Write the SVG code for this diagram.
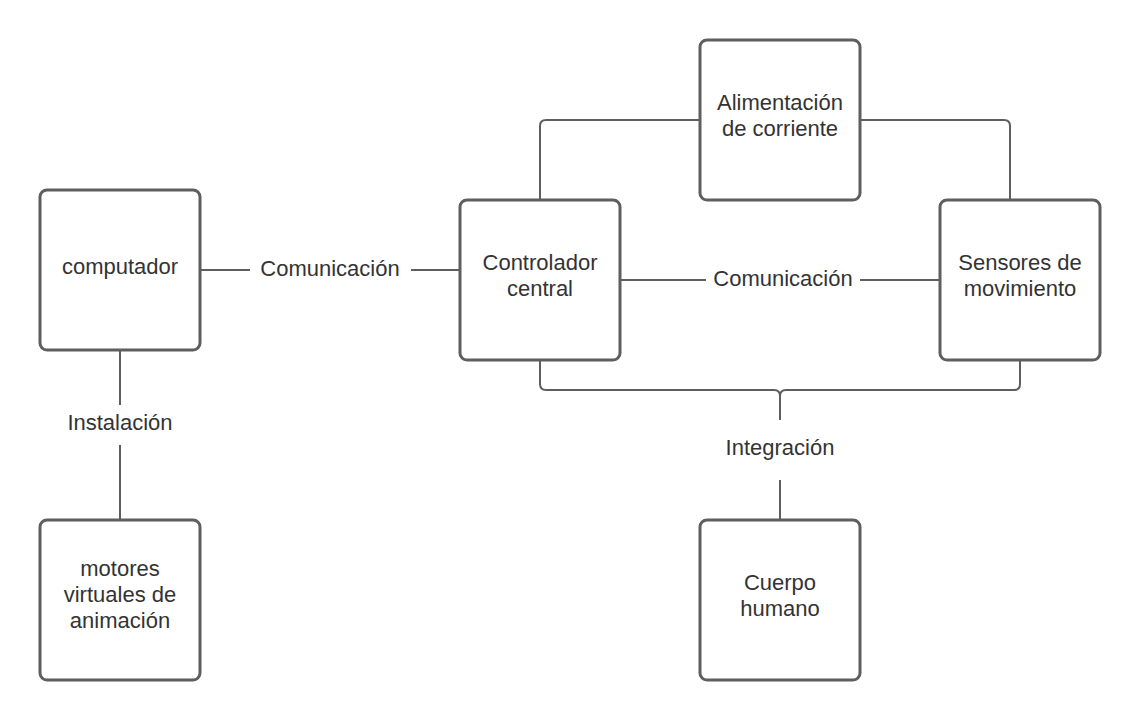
<svg xmlns="http://www.w3.org/2000/svg" width="1140" height="720" viewBox="0 0 1140 720">
<style>
.box{fill:#ffffff;stroke:#5e5e5e;stroke-width:3}
.ln{fill:none;stroke:#5e5e5e;stroke-width:2}
.t{font-family:"Liberation Sans",Arial,sans-serif;font-size:22px;fill:#333333;text-anchor:middle}
</style>
<rect width="1140" height="720" fill="#ffffff"/>
<g id="connectors">
<path class="ln" d="M200 270 H250 M411 270 H460"/>
<path class="ln" d="M620 280 H706 M860 280 H940"/>
<path class="ln" d="M700 120 H546 Q540 120 540 126 V200"/>
<path class="ln" d="M860 120 H1004 Q1010 120 1010 126 V200"/>
<path class="ln" d="M540 360 V384 Q540 390 546 390 H774 Q780 390 780 396 M1020 360 V384 Q1020 390 1014 390 H786 Q780 390 780 396 V420"/>
<path class="ln" d="M780 480 V520"/>
<path class="ln" d="M120 350 V405 M120 445 V520"/>
<text class="t" x="330" y="276">Comunicación</text>
<text class="t" x="783" y="286">Comunicación</text>
<text class="t" x="780" y="455">Integración</text>
<text class="t" x="120" y="430">Instalación</text>
</g>
<g id="computador">
<rect class="box" x="40" y="190" width="160" height="160" rx="7"/>
<text class="t" x="120" y="274">computador</text>
</g>
<g id="controlador">
<rect class="box" x="460" y="200" width="160" height="160" rx="7"/>
<text class="t" x="540" y="270">Controlador</text>
<text class="t" x="540" y="296">central</text>
</g>
<g id="alimentacion">
<rect class="box" x="700" y="40" width="160" height="160" rx="7"/>
<text class="t" x="780" y="110">Alimentación</text>
<text class="t" x="780" y="136">de corriente</text>
</g>
<g id="sensores">
<rect class="box" x="940" y="200" width="160" height="160" rx="7"/>
<text class="t" x="1020" y="270">Sensores de</text>
<text class="t" x="1020" y="296">movimiento</text>
</g>
<g id="motores">
<rect class="box" x="40" y="520" width="160" height="160" rx="7"/>
<text class="t" x="120" y="576">motores</text>
<text class="t" x="120" y="602">virtuales de</text>
<text class="t" x="120" y="628">animación</text>
</g>
<g id="cuerpo">
<rect class="box" x="700" y="520" width="160" height="160" rx="7"/>
<text class="t" x="780" y="590">Cuerpo</text>
<text class="t" x="780" y="616">humano</text>
</g>
</svg>
